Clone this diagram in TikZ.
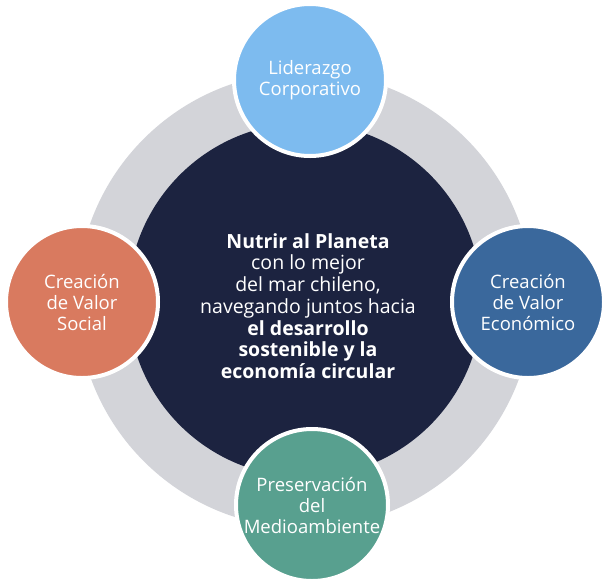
\documentclass[tikz,border=0pt]{standalone}
\usepackage{fontspec}
\setmainfont{Open Sans}
\definecolor{ring}{HTML}{D3D4D9}
\definecolor{core}{HTML}{1C2340}
\definecolor{ctop}{HTML}{7DBBEF}
\definecolor{cright}{HTML}{3A689C}
\definecolor{cbot}{HTML}{58A08F}
\definecolor{cleft}{HTML}{D97A5F}
\begin{document}
\begin{tikzpicture}[x=1pt,y=-1pt,
  sat/.style={circle,minimum size=152pt,draw=white,line width=4pt,text=white,font=\fontsize{18.5}{21}\selectfont,align=center,inner sep=0pt}]
\useasboundingbox (0,0) rectangle (607,587);
\fill[ring] (305,300) circle (228);
\node[circle,fill=core,minimum size=354pt,inner sep=0pt] (core) at (305,300) {};
\node[text=white,align=center,font=\fontsize{19.5}{21.7}\selectfont] (txt) at (308,306)
 {\textbf{Nutrir al Planeta}\\con lo mejor\\del mar chileno,\\navegando juntos hacia\\\textbf{el desarrollo}\\\textbf{sostenible y la}\\\textbf{economía circular}};
\node[sat,fill=ctop] (top) at (310,80) {Liderazgo\\Corporativo};
\node[sat,fill=cleft] (left) at (82,302) {Creación\\de Valor\\Social};
\node[sat,fill=cright] (right) at (528,302) {Creación\\de Valor\\Económico};
\node[sat,fill=cbot] (bot) at (312,505) {Preservación\\del\\Medioambiente};
\end{tikzpicture}
\end{document}
